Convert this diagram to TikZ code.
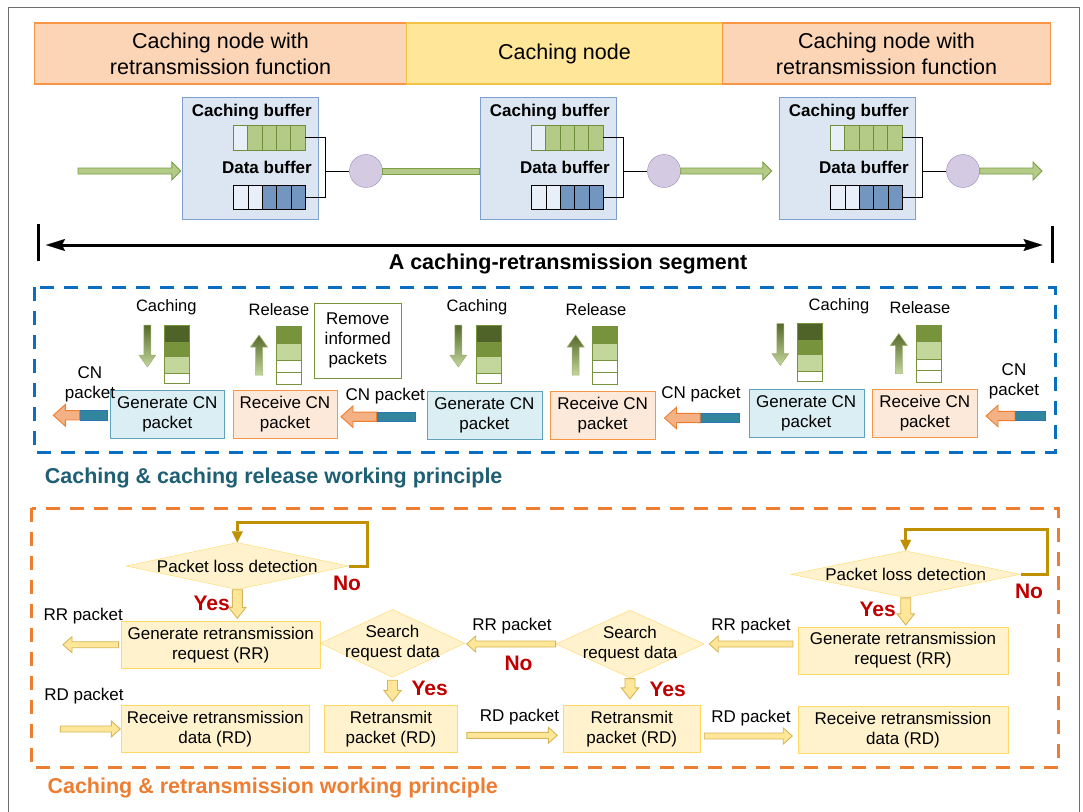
\documentclass[tikz,border=0pt]{standalone}
\usepackage{fontspec}
\setmainfont{Liberation Sans}
\usetikzlibrary{shapes.geometric, arrows.meta, positioning, calc}

\definecolor{framegray}{HTML}{6E6E6E}
\definecolor{peach}{HTML}{FBD5B5}
\definecolor{peachline}{HTML}{F79646}
\definecolor{lemon}{HTML}{FFE699}
\definecolor{lemonline}{HTML}{F2C343}
\definecolor{bufbg}{HTML}{DCE6F2}
\definecolor{bufline}{HTML}{7F9FCF}
\definecolor{cellgreen}{HTML}{B3CB86}
\definecolor{cellgreenline}{HTML}{6F8E3A}
\definecolor{cellempty}{HTML}{E9EFF8}
\definecolor{cellblue}{HTML}{7396C1}
\definecolor{lilac}{HTML}{D4CAE2}
\definecolor{lilacline}{HTML}{9C86B8}
\definecolor{arrowgreen}{HTML}{B3CB86}
\definecolor{arrowgreenline}{HTML}{7A9E45}
\definecolor{dashblue}{HTML}{0A6FC2}
\definecolor{tealtitle}{HTML}{1E5F74}
\definecolor{genfill}{HTML}{DAEEF3}
\definecolor{genline}{HTML}{5FA2BA}
\definecolor{recfill}{HTML}{FDE9D9}
\definecolor{recline}{HTML}{F79646}
\definecolor{cdark}{HTML}{4F6228}
\definecolor{cmid}{HTML}{77933C}
\definecolor{clight}{HTML}{C3D69B}
\definecolor{cnorange}{HTML}{F4B183}
\definecolor{cnorangeline}{HTML}{ED7D31}
\definecolor{cnteal}{HTML}{31859C}
\definecolor{cntealline}{HTML}{2E75B6}
\definecolor{dashorange}{HTML}{ED7D31}
\definecolor{flowfill}{HTML}{FFF2CC}
\definecolor{flowline}{HTML}{FFD966}
\definecolor{loopgold}{HTML}{BF9000}
\definecolor{goldfill}{HTML}{FFE699}
\definecolor{goldline}{HTML}{D6B656}
\definecolor{yesred}{HTML}{C00000}

\newcommand\normfont{\fontsize{17pt}{20pt}\selectfont}
\newcommand\headfont{\fontsize{21.5pt}{26pt}\selectfont}
\newcommand\titlefont{\bfseries\fontsize{21.5pt}{26pt}\selectfont}
\newcommand\buffont{\bfseries\fontsize{17pt}{20pt}\selectfont}
\newcommand\ynfont{\bfseries\fontsize{21pt}{25pt}\selectfont}
\newcommand\iconfont{\fontsize{16.5pt}{20pt}\selectfont}

\tikzset{
  shaft/.store in=\bshaft, head/.store in=\bhead, tiplen/.store in=\btip,
  gapa/.store in=\bgapa, gapb/.store in=\bgapb, lift/.store in=\blift,
  shaft=3pt, head=8pt, tiplen=9pt, gapa=0pt, gapb=0pt, lift=0}
% block arrow from #2 to #3
\newcommand\blockarrow[3][]{%
  \draw[#1] let \p1=($(#2)!\bgapa!(#3)+(0,\blift)$), \p2=($(#3)!\bgapb!(#2)+(0,\blift)$),
      \p3=($(\p2)!\btip!(\p1)$) in
    ($(\p1)!\bshaft!90:(\p2)$) -- ($(\p3)!\bshaft!-90:(\p1)$) -- ($(\p3)!\bhead!-90:(\p1)$)
    -- (\p2) -- ($(\p3)!\bhead!90:(\p1)$) -- ($(\p3)!\bshaft!90:(\p1)$)
    -- ($(\p1)!\bshaft!-90:(\p2)$) -- cycle;}

\tikzstyle{every node}=[font=\normfont]
\tikzstyle{hdr}=[rectangle, minimum height=61pt, outer sep=0pt, line width=1.2pt, align=center, font=\headfont]
\tikzstyle{bufbox}=[rectangle, fill=bufbg, draw=bufline, minimum width=136pt, minimum height=122.6pt]
\tikzstyle{buflabel}=[anchor=base east, font=\buffont, inner sep=0pt]
\tikzstyle{bufslot}=[rectangle, minimum width=72pt, inner sep=0pt, outer sep=0pt]
\tikzstyle{hub}=[circle, minimum size=33pt, inner sep=0pt, fill=lilac, draw=lilacline]
\tikzstyle{genbox}=[rectangle, fill=genfill, draw=genline, minimum height=48pt, align=center, inner sep=1pt]
\tikzstyle{recbox}=[rectangle, fill=recfill, draw=recline, minimum height=48pt, align=center, inner sep=1pt]
\tikzstyle{flow}=[rectangle, fill=flowfill, draw=flowline, minimum height=47pt, align=center, inner sep=1pt]
\tikzstyle{decision}=[diamond, fill=flowfill, draw=flowline, inner sep=0pt]
\tikzstyle{yn}=[anchor=base, font=\ynfont, text=yesred]
\tikzstyle{pkt}=[anchor=base]
\tikzstyle{greenarrow}=[fill=arrowgreen, draw=arrowgreenline, line width=0.9pt, shaft=3pt, head=9pt, tiplen=9pt]
\tikzstyle{greenshade}=[top color=cdark!85!cmid, bottom color=clight, draw=cmid!70!white, line width=0.5pt, shaft=3.5pt, head=8.5pt, tiplen=12pt]
\tikzstyle{cntail}=[rectangle, fill=cnteal, draw=cntealline, minimum height=9.3pt, inner sep=0pt, line width=0.8pt]
\tikzstyle{cnarrow}=[fill=cnorange, draw=cnorangeline, line width=0.9pt, shaft=4.65pt, head=10.8pt, tiplen=12pt]
\tikzstyle{goldarrow}=[fill=goldfill, draw=goldline, line width=0.9pt, shaft=3pt, head=8pt, tiplen=9pt]
\tikzstyle{yesarrow}=[goldarrow, shaft=5pt, head=8.7pt, tiplen=11pt]
\tikzstyle{loopline}=[draw=loopgold, line width=3pt, -{Triangle[length=11pt,width=11pt,line width=0.1pt]}]

\begin{document}
\begin{tikzpicture}[x=1pt, y=-1pt, >=Latex, node distance=8pt]
\useasboundingbox (0,0) rectangle (1083,811);
\draw[framegray, line width=1.2pt] (8.5,830) -- (8.5,7.5) -- (1079.5,7.5) -- (1079.5,830);

\node[hdr, fill=peach, draw=peachline, minimum width=372pt] (hl) at (220.5,53.5) {Caching node with\\retransmission function};
\node[hdr, fill=lemon, draw=lemonline, minimum width=316pt, right=0pt of hl] (hm) {Caching node};
\node[hdr, fill=peach, draw=peachline, minimum width=328pt, right=0pt of hm] (hr) {Caching node with\\retransmission function};

\foreach \k/\bx in {1/250,2/548,3/847}{
  \node[bufbox] (bx\k) at (\bx,158) {};
  \node[buflabel] (cbl\k) at (\bx+62,116) {Caching buffer};
  \node[buflabel] (dbl\k) at (\bx+62,173) {Data buffer};
  \node[bufslot, minimum height=25pt] (cb\k) at (\bx+19.3,137.5) {};
  \node[bufslot, minimum height=24pt] (db\k) at (\bx+19.7,197) {};
  \foreach \i/\c in {0/cellempty,1/cellgreen,2/cellgreen,3/cellgreen,4/cellgreen}
    \draw[draw=cellgreenline, line width=0.9pt, fill=\c] ($(cb\k.north west)+(\i*14.4,0)$) rectangle ++(14.4,25);
  \foreach \i/\c in {0/cellempty,1/cellempty,2/cellblue,3/cellblue,4/cellblue}
    \draw[line width=1pt, fill=\c] ($(db\k.north west)+(\i*14.4,0)$) rectangle ++(14.4,24);
  \node[hub] (c\k) at (\bx+116,171) {};
  \coordinate (j\k) at (\bx+75.3,171);
  \draw[line width=1pt] (cb\k.east) -| (j\k) |- (db\k.east);
  \draw[line width=1pt] (j\k) -- (c\k);
}
\coordinate (in0) at (78,171);
\coordinate (out3) at (1042,171);
\blockarrow[greenarrow, gapb=1pt]{in0}{bx1.west|-in0}
\draw[greenarrow] ($(c1.east)+(0,-3)$) rectangle ($(bx2.west|-c1.east)+(0,3)$);
\blockarrow[greenarrow, gapb=7pt]{c2.east}{bx3.west|-c2.east}
\blockarrow[greenarrow]{c3.east}{out3}

\coordinate (sl) at (38,245);
\coordinate (sr) at (1052.5,245);
\draw[line width=3pt] ($(sl)+(0,-21)$) -- ($(sl)+(0,16)$);
\draw[line width=3pt] ($(sr)+(0,-19)$) -- ($(sr)+(0,18)$);
\draw[line width=3pt, {Stealth[length=19pt,width=12pt,inset=3pt,line width=0.1pt]}-{Stealth[length=19pt,width=12pt,inset=3pt,line width=0.1pt]}, shorten <=8pt, shorten >=10pt] (sl) -- (sr);
\node[anchor=base, font=\titlefont] (seg) at (568,269) {A caching-retransmission segment};

\draw[draw=dashblue, line width=3pt, dash pattern=on 14pt off 10pt] (34.4,287.3) rectangle (1055,452.7);
\node[anchor=base west, font=\titlefont, text=tealtitle] (ttl1) at (41.3,483.3) {Caching \& caching release working principle};

\node[genbox, minimum width=114.5pt] (gen1) at (167.3,414) {Generate CN\\packet};
\node[recbox, minimum width=104pt, right=of gen1] (rec1) {Receive CN\\packet};
\node[genbox, minimum width=114.7pt] (gen2) at (484.4,415) {Generate CN\\packet};
\node[recbox, minimum width=105pt, right=of gen2] (rec2) {Receive CN\\packet};
\node[genbox, minimum width=115pt] (gen3) at (806.2,413) {Generate CN\\packet};
\node[recbox, minimum width=105.4pt, right=of gen3] (rec3) {Receive CN\\packet};
\node[draw=cmid, fill=white, minimum width=86.8pt, minimum height=75pt, align=center, inner sep=1pt] (rm) at (357.8,340.8) {Remove\\informed\\packets};

\foreach \k/\ax/\sx/\lx/\ly/\sy in {1/147.4/164.6/166.3/311.7/325, 2/458.3/476/477/311.7/325, 3/780.3/797.8/839/310/323.5}{
  \node[anchor=base, font=\iconfont] (cap\k) at (\lx,\ly) {Caching};
  \coordinate (cs\k) at (\sx,\sy);
  \foreach \c/\ya/\yb in {cdark/0/17, cmid/17/31, clight/31/48, white/48/58}
    \draw[draw=cmid, line width=0.9pt, fill=\c] ($(cs\k)+(0,\ya)$) rectangle ($(cs\k)+(25,\yb)$);
  \coordinate (cat\k) at (\ax,\sy);
  \coordinate (cah\k) at (\ax,\sy+42);
  \blockarrow[greenshade]{cat\k}{cah\k}
}
\foreach \k/\ax/\sx/\lx/\ly/\sy in {1/259/276.5/279/315/326.5, 2/575.7/592.7/596/315/326.5, 3/898.8/916.4/920/313/325}{
  \node[anchor=base, font=\iconfont] (rel\k) at (\lx,\ly) {Release};
  \coordinate (rs\k) at (\sx,\sy);
  \foreach \c/\ya/\yb in {cmid/0/16.6, clight/16.6/34.3, white/34.3/45.6, white/45.6/57.6}
    \draw[draw=cmid, line width=0.9pt, fill=\c] ($(rs\k)+(0,\ya)$) rectangle ($(rs\k)+(25,\yb)$);
  \coordinate (rab\k) at (\ax,\sy+48.5);
  \coordinate (rat\k) at (\ax,\sy+8.5);
  \blockarrow[greenshade]{rab\k}{rat\k}
}

\foreach \k/\tx/\tw/\ty/\px in {1/93.9/27.7pt/415.3/53.3, 2/396/38pt/416.7/341, 3/719.9/38.6pt/418/664.5, 4/1030.2/29.7pt/416/986}{
  \node[cntail, minimum width=\tw] (tail\k) at (\tx,\ty) {};
  \coordinate (tip\k) at (\px,\ty);
  \blockarrow[cnarrow]{tail\k.west}{tip\k}
}
\node[align=center] (cnl1) at (90,384.7) {CN\\packet};
\node[pkt] (cnl2) at (385.3,400) {CN packet};
\node[pkt] (cnl3) at (701,398) {CN packet};
\node[align=center] (cnl4) at (1014,381.5) {CN\\packet};

\draw[draw=dashorange, line width=3pt, dash pattern=on 14pt off 10pt] (31.7,508.3) rectangle (1058.4,767.7);
\node[anchor=base west, font=\titlefont, text=dashorange] (ttl2) at (44,793.3) {Caching \& retransmission working principle};

\node[decision, minimum width=222.6pt, minimum height=47pt, label=center:Packet loss detection] (pld1) at (237.3,566) {};
\node[flow, minimum width=199pt] (grr1) at (220.7,644.7) {Generate retransmission\\request (RR)};
\node[decision, minimum width=144.7pt, minimum height=68pt, label={[align=center]center:Search\\request data}] (srch1) at (392.5,643.3) {};
\node[decision, minimum width=148.4pt, minimum height=67.7pt, label={[align=center]center:Search\\request data}] (srch2) at (630,644) {};
\node[flow, minimum width=210.5pt] (grr2) at (903,650.3) {Generate retransmission\\request (RR)};
\node[decision, minimum width=229.7pt, minimum height=46.7pt, label=center:Packet loss detection] (pld2) at (905.7,574.3) {};
\node[flow, minimum width=188pt] (rrd1) at (215.2,729) {Receive retransmission\\data (RD)};
\node[flow, minimum width=132.9pt] (rtx1) at (390.9,729) {Retransmit\\packet (RD)};
\node[flow, minimum width=137.8pt] (rtx2) at (631.7,729) {Retransmit\\packet (RD)};
\node[flow, minimum width=210.5pt] (rrd2) at (903,729.7) {Receive retransmission\\data (RD)};

\draw[loopline] (pld1.east) -| ++(19,-44) -| (pld1.north);
\draw[loopline] (pld2.east) -| ++(26.3,-45) -| (pld2.north);

\coordinate (rrout) at (63,644.7);
\coordinate (rdin) at (60.3,729);
\blockarrow[goldarrow, gapa=2.4pt]{grr1.west}{rrout}
\blockarrow[goldarrow, gapb=1.7pt]{srch2.west}{srch1.east|-srch2.west}
\blockarrow[goldarrow, gapa=4.6pt, gapb=4.8pt]{grr2.west|-srch2.east}{srch2.east}
\blockarrow[yesarrow, gapb=2.7pt]{pld1.south}{pld1.south|-grr1.north}
\blockarrow[yesarrow, gapb=1.7pt]{pld2.south}{pld2.south|-grr2.north}
\blockarrow[yesarrow, gapa=2.7pt, gapb=4pt]{srch1.south}{srch1.south|-rtx1.north}
\blockarrow[yesarrow, gapa=0.6pt, gapb=6.4pt]{srch2.south}{srch2.south|-rtx2.north}
\blockarrow[goldarrow, gapa=9.3pt, gapb=5.3pt, lift=6.3]{rtx1.east}{rtx2.west}
\blockarrow[goldarrow, gapa=3.4pt, gapb=5.3pt, lift=7]{rtx2.east}{rrd2.west|-rtx2.east}
\blockarrow[goldarrow, gapb=0.7pt]{rdin}{rrd1.west}

\node[yn] (no1) at (347,590) {No};
\node[yn] (yes1) at (211.7,610) {Yes};
\node[yn] (no2) at (518.5,670.7) {No};
\node[yn] (yes2) at (429.6,695) {Yes};
\node[yn] (yes3) at (667.6,696.7) {Yes};
\node[yn] (yes4) at (877.6,616.7) {Yes};
\node[yn] (no3) at (1029,598.3) {No};
\node[pkt] (rrl1) at (83.2,620) {RR packet};
\node[pkt] (rrl2) at (512,630) {RR packet};
\node[pkt] (rrl3) at (751,630) {RR packet};
\node[pkt] (rdl1) at (84,700) {RD packet};
\node[pkt] (rdl2) at (519.5,721.7) {RD packet};
\node[pkt] (rdl3) at (751,722.7) {RD packet};
\end{tikzpicture}
\end{document}
